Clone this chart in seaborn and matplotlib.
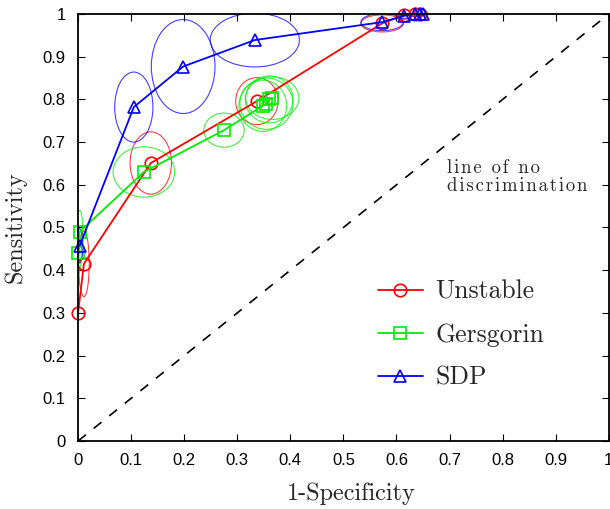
import numpy as np
import pandas as pd
import matplotlib
matplotlib.use("Agg")
import matplotlib.pyplot as plt
from matplotlib.patches import Ellipse
import seaborn as sns

# ---- data ----
unstable_x = [0.0, 0.011, 0.137, 0.337, 0.573, 0.615, 0.635, 0.645]
unstable_y = [0.30, 0.415, 0.651, 0.796, 0.978, 0.998, 1.0, 1.0]
unstable_sx = [0.0, 0.010, 0.039, 0.040, 0.040, 0.012, 0.008, 0.006]
unstable_sy = [0.0, 0.077, 0.073, 0.055, 0.020, 0.008, 0.006, 0.005]

gers_x = [0.0, 0.003, 0.124, 0.275, 0.348, 0.355, 0.360, 0.366]
gers_y = [0.440, 0.490, 0.630, 0.728, 0.785, 0.790, 0.800, 0.803]
gers_sx = [0.006, 0.006, 0.058, 0.038, 0.045, 0.050, 0.045, 0.050]
gers_sy = [0.050, 0.050, 0.059, 0.040, 0.060, 0.060, 0.055, 0.050]

sdp_x = [0.003, 0.105, 0.198, 0.333, 0.573, 0.615, 0.635, 0.645, 0.650]
sdp_y = [0.457, 0.782, 0.877, 0.939, 0.981, 0.996, 1.0, 1.0, 1.0]
sdp_sx = [0.006, 0.036, 0.060, 0.084, 0.040, 0.010, 0.008, 0.006, 0.005]
sdp_sy = [0.040, 0.082, 0.110, 0.063, 0.020, 0.008, 0.006, 0.005, 0.004]

series_names = ["Unstable", "Gersgorin", "SDP"]
ticks = [0.0, 0.1, 0.2, 0.3, 0.4, 0.5, 0.6, 0.7, 0.8, 0.9, 1.0]
tick_labels = ["0", "0.1", "0.2", "0.3", "0.4", "0.5", "0.6", "0.7", "0.8", "0.9", "1"]

sns.set_theme(style="white")
plt.rcParams["font.family"] = ["Liberation Sans", "DejaVu Sans"]

fig = plt.figure(figsize=(6.10, 5.09), dpi=100)
ax = fig.add_axes([0.128, 0.1336, 0.870, 0.8389])

colors = {"Unstable": "#ff0000", "Gersgorin": "#00ee00", "SDP": "#0000ff"}
markers = {"Unstable": "o", "Gersgorin": "s", "SDP": "^"}
data = {
    "Unstable": (unstable_x, unstable_y, unstable_sx, unstable_sy),
    "Gersgorin": (gers_x, gers_y, gers_sx, gers_sy),
    "SDP": (sdp_x, sdp_y, sdp_sx, sdp_sy),
}

# diagonal
diag = pd.DataFrame({"x": [0.0, 1.0], "y": [0.0, 1.0]})
sns.lineplot(data=diag, x="x", y="y", ax=ax, color="black", lw=1.2,
             linestyle=(0, (6, 6)), legend=False)

for name in series_names:
    xs, ys, sxs, sys_ = data[name]
    c = colors[name]
    for x, y, sx, sy in zip(xs, ys, sxs, sys_):
        if sx > 0 and sy > 0:
            e = Ellipse((x, y), 2 * sx, 2 * sy, fill=False, edgecolor=c,
                        lw=0.8, alpha=0.75)
            ax.add_patch(e)

for name in series_names:
    xs, ys, _, _ = data[name]
    df = pd.DataFrame({"x": xs, "y": ys})
    c = colors[name]
    sns.lineplot(data=df, x="x", y="y", ax=ax, color=c, lw=1.3,
                 marker=markers[name], markersize=9 if name != "Gersgorin" else 8,
                 markerfacecolor="none", markeredgecolor=c, markeredgewidth=1.2,
                 label=name, clip_on=False, sort=False)

ax.set_xlim(0, 1)
ax.set_ylim(0, 1)
ax.set_xticks(ticks)
ax.set_yticks(ticks)
ax.set_xticklabels(tick_labels, fontsize=12)
ax.set_yticklabels(tick_labels, fontsize=12)
ax.tick_params(direction="in", length=5, width=0.8, top=True, right=True,
               bottom=True, left=True, pad=9, colors="black")
for s in ax.spines.values():
    s.set_color("black")
    s.set_linewidth(1.3)

ax.set_xlabel("1-Specificity", fontfamily="cmr10", fontsize=17.5)
ax.set_ylabel("Sensitivity", fontfamily="cmr10", fontsize=17.5)
ax.xaxis.set_label_coords(0.515, -0.097)
ax.yaxis.set_label_coords(-0.097, 0.5)

hs = "\u200a"
label_text = hs.join("line of no") + "\n" + hs.join("discrimination")
ax.text(0.695, 0.618, label_text, family=["cmr10", "DejaVu Serif"],
        fontsize=13.5, ha="left", va="center", linespacing=1.0)

leg = ax.legend(loc="center", bbox_to_anchor=(0.722, 0.249), frameon=False,
                prop={"family": "cmr10", "size": 18.5}, handlelength=1.75,
                labelspacing=0.75, handletextpad=0.5)

fig.savefig("out.png", dpi=100)
